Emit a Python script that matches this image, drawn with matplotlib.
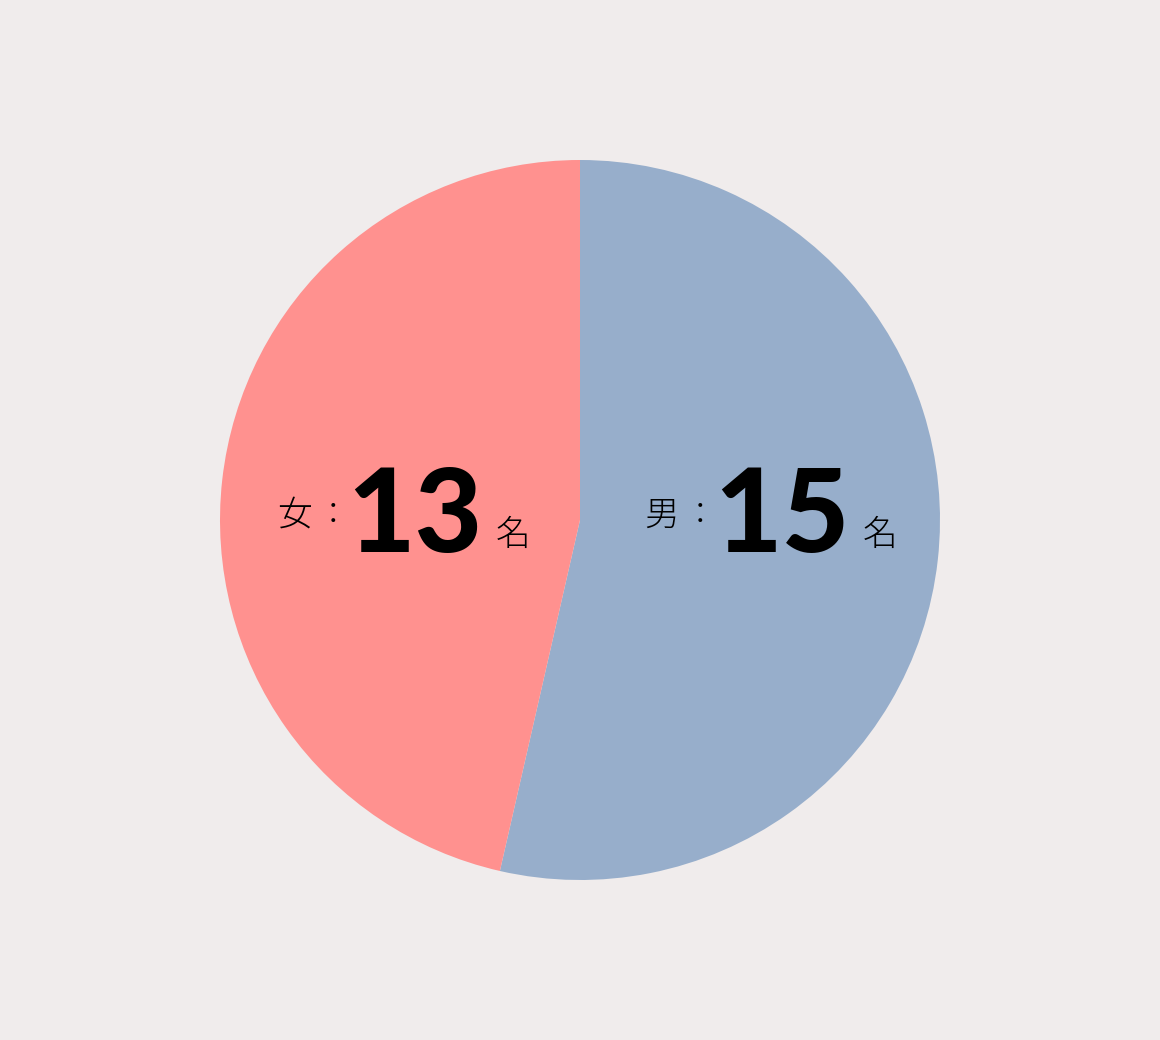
import matplotlib
matplotlib.use("Agg")
import matplotlib.pyplot as plt

# data
labels = ["男", "女"]
counts = [15, 13]
colors = ["#97aecb", "#ff918f"]
unit = "名"

W, H = 1160, 1040
bg = "#f0ecec"

fig = plt.figure(figsize=(W / 100, H / 100), dpi=100, facecolor=bg)
ax = fig.add_axes([220 / W, 1 - 880 / H, 720 / W, 720 / H])
ax.set_facecolor(bg)
ax.pie(counts, colors=colors, startangle=90, counterclock=False,
       wedgeprops={"linewidth": 0})
ax.set_xlim(-1, 1)
ax.set_ylim(-1, 1)
ax.set_aspect("equal")
ax.axis("off")

cjk = ["Noto Sans CJK JP", "DejaVu Sans"]


def px(x, y):
    return x / W, 1 - y / H


# label blocks: (label x, colon x, number x, unit x)
spots = {"女": (277, 318, 347, 496), "男": (644, 685, 714, 863)}

for lab, n in zip(labels, counts):
    lx, cx, nx, ux = spots[lab]
    fig.text(*px(lx, 526), lab, family=cjk, fontsize=25, fontweight="light",
             ha="left", va="baseline")
    fig.text(*px(cx, 524), "：", family=cjk, fontsize=22, fontweight="light",
             ha="left", va="baseline")
    fig.text(*px(nx, 552), str(n), family="Lato", fontsize=84, fontweight="black",
             ha="left", va="baseline")
    fig.text(*px(ux, 545), unit, family=cjk, fontsize=25, fontweight="light",
             ha="left", va="baseline")

fig.savefig("out.png", dpi=100, facecolor=bg)
